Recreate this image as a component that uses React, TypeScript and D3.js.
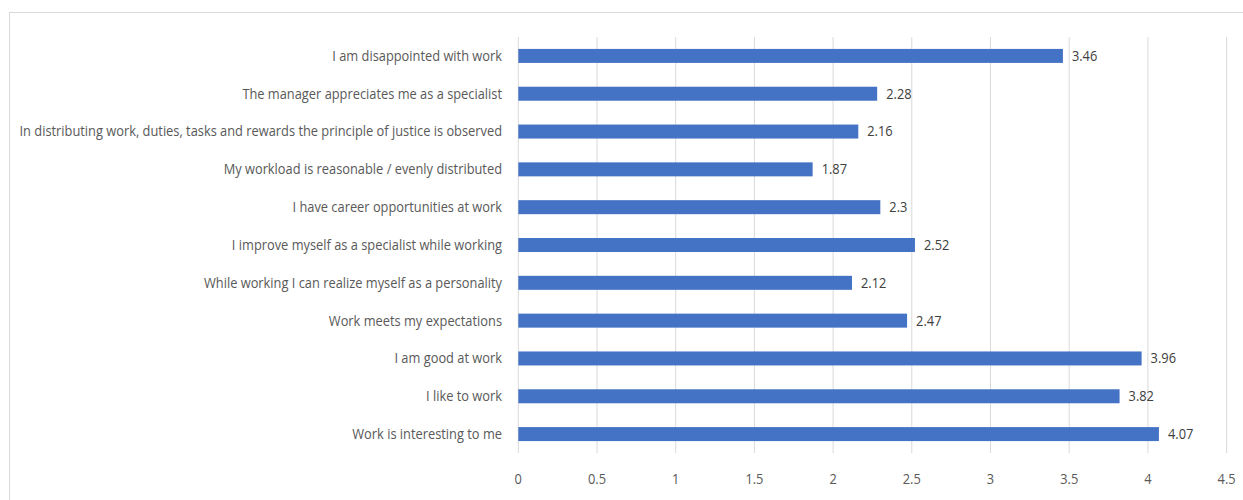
import React from "react";
import * as d3 from "d3";

const categories = [
  "I am disappointed with work",
  "The manager appreciates me as a specialist",
  "In distributing work, duties, tasks and rewards the principle of justice is observed",
  "My workload is reasonable / evenly distributed",
  "I have career opportunities at work",
  "I improve myself as a specialist while working",
  "While working I can realize myself as a personality",
  "Work meets my expectations",
  "I am good at work",
  "I like to work",
  "Work is interesting to me",
];
const values = [3.46, 2.28, 2.16, 1.87, 2.3, 2.52, 2.12, 2.47, 3.96, 3.82, 4.07];
const valueLabels = ["3.46", "2.28", "2.16", "1.87", "2.3", "2.52", "2.12", "2.47", "3.96", "3.82", "4.07"];
const ticks = [0, 0.5, 1, 1.5, 2, 2.5, 3, 3.5, 4, 4.5];

const W = 1243;
const H = 500;
const left = 518.3;
const right = 1226.6;
const top = 37;
const bottom = 453;
const FONT = "'Open Sans', sans-serif";
const FS = 14;

function measure(s: string): number {
  if (typeof document === "undefined") return s.length * 7;
  const c = document.createElement("canvas");
  const ctx = c.getContext("2d");
  if (!ctx) return s.length * 7;
  ctx.font = `${FS}px 'Open Sans'`;
  return ctx.measureText(s).width;
}

export default function App() {
  const sx = 483 / measure(categories[2]);
  const x = d3.scaleLinear().domain([0, 4.5]).range([left, right]);
  const y = d3.scaleBand<string>().domain(categories).range([top, bottom]).paddingInner(0.63).paddingOuter(0.315);
  return (
    <svg width={W} height={H} style={{ position: "absolute", left: 0, top: 0, background: "#fff" }}>
      <rect x={9.5} y={12.5} width={1260} height={520} fill="#fff" stroke="#d9d9d9" strokeWidth={1} />
      {ticks.map((t) => (
        <g key={t}>
          <line x1={x(t)} x2={x(t)} y1={top} y2={bottom} stroke="#d9d9d9" strokeWidth={1} />
          <text transform={`translate(${x(t)},484) scale(${sx},1)`} textAnchor="middle" fontFamily={FONT} fontSize={FS} fill="#595959">
            {String(t)}
          </text>
        </g>
      ))}
      {categories.map((c, i) => {
        const yy = y(c)!;
        const bw = y.bandwidth();
        return (
          <g key={c}>
            <rect x={x(0)} y={yy} width={x(values[i]) - x(0)} height={bw} fill="#4472C4" />
            <text transform={`translate(502,${yy + bw / 2}) scale(${sx},1)`} dy="0.35em" textAnchor="end" fontFamily={FONT} fontSize={FS} fill="#595959">
              {c}
            </text>
            <text transform={`translate(${x(values[i]) + 9},${yy + bw / 2}) scale(${sx},1)`} dy="0.35em" fontFamily={FONT} fontSize={FS} fill="#404040">
              {valueLabels[i]}
            </text>
          </g>
        );
      })}
    </svg>
  );
}
